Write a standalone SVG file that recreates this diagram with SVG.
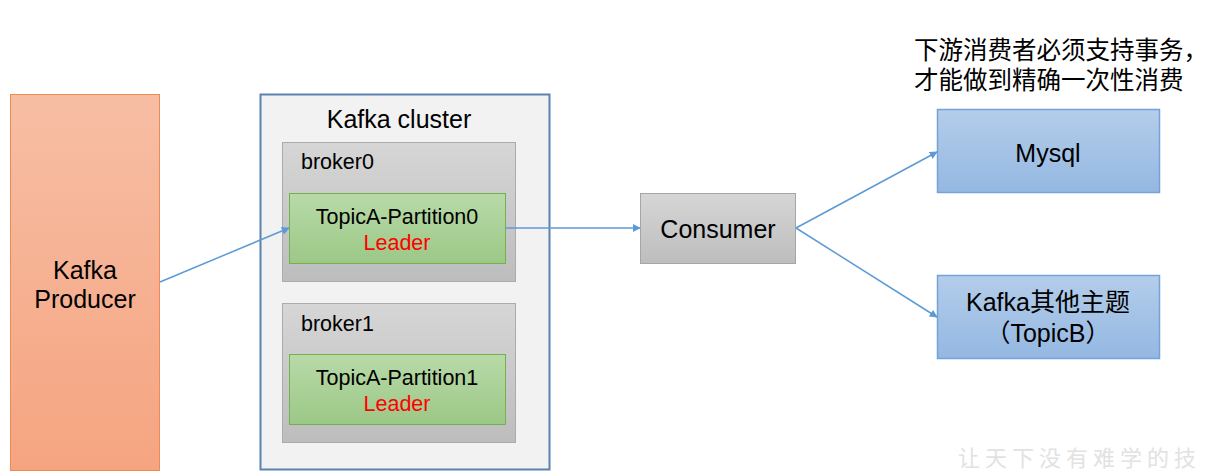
<svg xmlns="http://www.w3.org/2000/svg" width="1213" height="475" viewBox="0 0 1213 475">
<defs>
<linearGradient id="gOrange" x1="0" y1="0" x2="0" y2="1"><stop offset="0" stop-color="#F7BEA4"/><stop offset="1" stop-color="#F5A480"/></linearGradient>
<linearGradient id="gGray" x1="0" y1="0" x2="0" y2="1"><stop offset="0" stop-color="#D6D6D6"/><stop offset="1" stop-color="#BDBDBD"/></linearGradient>
<linearGradient id="gGreen" x1="0" y1="0" x2="0" y2="1"><stop offset="0" stop-color="#B8DAA8"/><stop offset="1" stop-color="#9CC887"/></linearGradient>
<linearGradient id="gBlue" x1="0" y1="0" x2="0" y2="1"><stop offset="0" stop-color="#B4CDEA"/><stop offset="1" stop-color="#94B8E2"/></linearGradient>
<marker id="arr" viewBox="0 0 10 10" refX="9" refY="5" markerWidth="8" markerHeight="8" markerUnits="userSpaceOnUse" orient="auto"><path d="M0,0 L10,5 L0,10 z" fill="#5B9BD5"/></marker>
</defs>
<style>
text{font-family:"Liberation Sans",Arial,"Noto Sans CJK SC",sans-serif;fill:#000}
.c{text-anchor:middle}
.big{font-size:25px}
.mid{font-size:21.5px}
.red{fill:#FF0000}
.cn{font-size:24.5px}
.conn{stroke:#5B9BD5;stroke-width:1.5;fill:none;marker-end:url(#arr)}
</style>
<rect width="1213" height="475" fill="#FFFFFF"/>
<g id="producer">
<rect x="10.5" y="94.5" width="149" height="376" fill="url(#gOrange)" stroke="#F08A55" stroke-width="1"/>
<text class="c big" x="85" y="279">Kafka</text>
<text class="c big" x="85" y="308">Producer</text>
</g>
<g id="cluster">
<rect x="260.5" y="94.5" width="289" height="375" fill="#F2F2F2" stroke="#5A82AE" stroke-width="2"/>
<text class="c big" x="399" y="128">Kafka cluster</text>
</g>
<g id="broker0">
<rect x="282.5" y="142.5" width="233" height="139" fill="url(#gGray)" stroke="#ABABAB" stroke-width="1"/>
<text class="mid" x="301" y="169">broker0</text>
</g>
<g id="partition0">
<rect x="289.5" y="193.5" width="216" height="70" fill="url(#gGreen)" stroke="#72B050" stroke-width="1"/>
<text class="c mid" x="397" y="224">TopicA-Partition0</text>
<text class="c mid red" x="397" y="250">Leader</text>
</g>
<g id="broker1">
<rect x="282.5" y="303.5" width="233" height="139" fill="url(#gGray)" stroke="#ABABAB" stroke-width="1"/>
<text class="mid" x="301" y="331">broker1</text>
</g>
<g id="partition1">
<rect x="289.5" y="354.5" width="216" height="70" fill="url(#gGreen)" stroke="#72B050" stroke-width="1"/>
<text class="c mid" x="397" y="385">TopicA-Partition1</text>
<text class="c mid red" x="397" y="411">Leader</text>
</g>
<g id="consumer">
<rect x="640.5" y="193.5" width="155" height="70" fill="url(#gGray)" stroke="#A6A6A6" stroke-width="1"/>
<text class="c big" x="718" y="238">Consumer</text>
</g>
<g id="mysql">
<rect x="937.5" y="109.5" width="222" height="83" fill="url(#gBlue)" stroke="#74A3DA" stroke-width="1.5"/>
<text class="c big" x="1048" y="162">Mysql</text>
</g>
<g id="topicB">
<rect x="937.5" y="275.5" width="222" height="83" fill="url(#gBlue)" stroke="#74A3DA" stroke-width="1.5"/>
<text class="c big" x="1048" y="311">Kafka其他主题</text>
<text class="c big" x="1048" y="342">（TopicB）</text>
</g>
<g id="note">
<text class="cn" x="914" y="59">下游消费者必须支持事务，</text>
<text class="cn" x="914" y="89">才能做到精确一次性消费</text>
</g>
<g id="connectors">
<line class="conn" x1="160" y1="282" x2="289" y2="228"/>
<line class="conn" x1="505" y1="228" x2="640" y2="228"/>
<line class="conn" x1="796" y1="228" x2="937" y2="152"/>
<line class="conn" x1="796" y1="228" x2="937" y2="317"/>
</g>
<g id="watermark">
<text x="958" y="466" style="font-size:22px;fill:#E2E2E2;letter-spacing:5px;font-family:'Noto Sans CJK SC',sans-serif">让天下没有难学的技</text>
</g>
</svg>
